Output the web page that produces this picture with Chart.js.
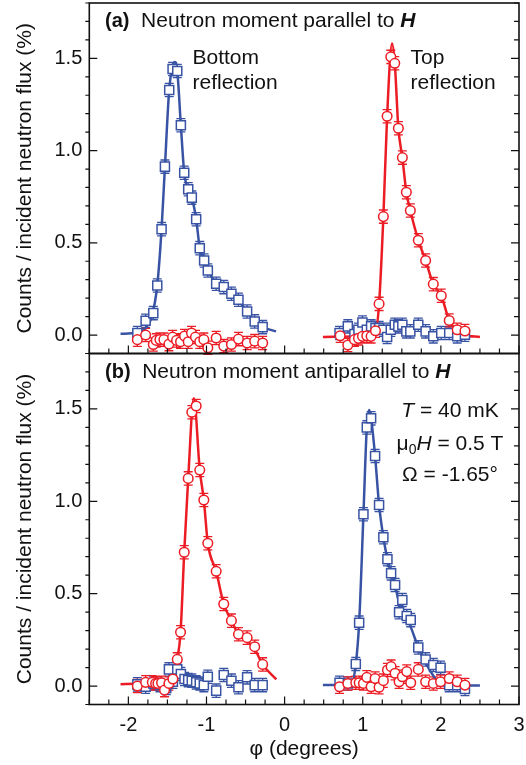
<!DOCTYPE html>
<html>
<head>
<meta charset="utf-8">
<script src="https://cdn.jsdelivr.net/npm/chart.js@4.4.1/dist/chart.umd.min.js"></script>
<style>
  html, body { margin: 0; padding: 0; background: #fff; }
  #wrap { position: relative; width: 526px; height: 765px; overflow: hidden; }
  canvas { position: absolute; left: 0; }
  #chartA { top: 0; }
  #chartB { top: 350px; }
</style>
</head>
<body>
<div id="wrap">
  <canvas id="chartA" width="526" height="356" style="width:526px;height:356px"></canvas>
  <canvas id="chartB" width="526" height="415" style="width:526px;height:415px"></canvas>
</div>
<script>
// ---- data (phi in degrees, counts in %) ----

// panel (a): neutron moment parallel to H
const aBlueLeftX = [-1.885, -1.779, -1.681, -1.630, -1.575, -1.532, -1.477, -1.434, -1.374, -1.328, -1.285, -1.234, -1.188, -1.132, -1.086, -1.030, -0.983, -0.876, -0.779, -0.681, -0.591, -0.480, -0.383, -0.281];
const aBlueLeftY = [0.011, 0.077, 0.119, 0.269, 0.574, 0.913, 1.328, 1.442, 1.431, 1.137, 0.880, 0.790, 0.745, 0.628, 0.471, 0.404, 0.350, 0.278, 0.260, 0.224, 0.191, 0.128, 0.074, 0.043];
const aRedLeftX = [-1.885, -1.779, -1.681, -1.643, -1.596, -1.545, -1.481, -1.434, -1.383, -1.332, -1.281, -1.234, -1.192, -1.141, -1.086, -1.034, -0.983, -0.876, -0.779, -0.681, -0.591, -0.480, -0.383, -0.281];
const aRedLeftY = [-0.025, 0.000, -0.051, -0.029, -0.024, -0.025, -0.049, -0.011, -0.029, -0.036, -0.005, -0.036, 0.011, -0.011, -0.036, -0.025, -0.069, -0.016, -0.060, -0.051, -0.022, -0.043, -0.033, -0.043];
const aBlueFitX = [-2.10, -1.885, -1.779, -1.70, -1.63, -1.575, -1.532, -1.477, -1.41, -1.374, -1.328, -1.285, -1.234, -1.188, -1.132, -1.086, -1.030, -0.983, -0.876, -0.779, -0.681, -0.591, -0.480, -0.383, -0.281, -0.11];
const aBlueFitY = [0.007, 0.012, 0.040, 0.100, 0.270, 0.574, 0.913, 1.328, 1.480, 1.431, 1.137, 0.880, 0.790, 0.745, 0.628, 0.471, 0.404, 0.350, 0.283, 0.255, 0.222, 0.185, 0.128, 0.074, 0.043, 0.020];

const aRedRightX = [0.711, 0.809, 0.894, 0.945, 0.996, 1.052, 1.107, 1.163, 1.209, 1.264, 1.312, 1.359, 1.410, 1.456, 1.507, 1.558, 1.609, 1.711, 1.805, 1.903, 2.005, 2.107, 2.209, 2.308];
const aRedRightY = [-0.004, -0.054, -0.025, -0.018, -0.007, -0.004, -0.007, 0.023, 0.169, 0.642, 1.186, 1.508, 1.473, 1.121, 0.962, 0.774, 0.675, 0.514, 0.404, 0.276, 0.213, 0.079, 0.029, 0.022];
const aBlueRightX = [0.703, 0.809, 0.894, 0.945, 0.996, 1.052, 1.107, 1.163, 1.209, 1.264, 1.312, 1.359, 1.410, 1.456, 1.507, 1.558, 1.609, 1.711, 1.805, 1.903, 2.005, 2.107, 2.209, 2.308];
const aBlueRightY = [0.011, 0.047, 0.005, 0.029, 0.068, 0.029, 0.047, 0.038, 0.038, 0.029, -0.011, 0.029, 0.056, 0.047, 0.056, 0.020, 0.020, 0.056, 0.020, -0.007, 0.011, 0.011, -0.007, 0.002];
const aRedFitX = [0.49, 0.90, 1.15, 1.209, 1.264, 1.312, 1.375, 1.410, 1.456, 1.507, 1.558, 1.609, 1.711, 1.805, 1.903, 2.005, 2.107, 2.209, 2.30, 2.50];
const aRedFitY = [-0.010, -0.008, -0.002, 0.169, 0.642, 1.186, 1.580, 1.473, 1.121, 0.962, 0.774, 0.675, 0.514, 0.404, 0.276, 0.213, 0.079, 0.025, 0.000, -0.010];

// panel (b): neutron moment antiparallel to H
const bRedLeftX = [-1.885, -1.779, -1.694, -1.651, -1.622, -1.575, -1.537, -1.481, -1.430, -1.374, -1.332, -1.285, -1.234, -1.188, -1.132, -1.086, -1.034, -0.983, -0.876, -0.779, -0.681, -0.591, -0.480, -0.383, -0.281];
const bRedLeftY = [0.000, 0.020, 0.020, 0.014, 0.014, 0.018, -0.022, 0.014, 0.038, 0.144, 0.291, 0.724, 1.124, 1.482, 1.516, 1.169, 1.007, 0.773, 0.621, 0.444, 0.354, 0.280, 0.262, 0.213, 0.117];
const bBlueLeftX = [-1.885, -1.779, -1.681, -1.596, -1.515, -1.481, -1.430, -1.374, -1.328, -1.281, -1.234, -1.188, -1.132, -1.086, -1.034, -0.983, -0.876, -0.779, -0.681, -0.591, -0.480, -0.383, -0.281];
const bBlueLeftY = [0.009, -0.004, 0.014, 0.005, -0.010, 0.090, 0.023, 0.090, 0.065, 0.038, 0.032, 0.029, 0.020, 0.014, 0.005, 0.050, -0.025, 0.060, 0.029, -0.007, 0.047, 0.005, 0.005];
const bRedFitX = [-2.10, -1.90, -1.60, -1.48, -1.43, -1.374, -1.332, -1.285, -1.234, -1.162, -1.086, -1.034, -0.983, -0.876, -0.779, -0.681, -0.591, -0.480, -0.383, -0.281, -0.106];
const bRedFitY = [0.010, 0.012, 0.015, 0.025, 0.050, 0.144, 0.291, 0.724, 1.124, 1.558, 1.169, 1.007, 0.773, 0.621, 0.444, 0.354, 0.280, 0.245, 0.200, 0.117, 0.036];

const bBlueRightX = [0.703, 0.809, 0.911, 0.954, 1.009, 1.052, 1.107, 1.158, 1.209, 1.264, 1.316, 1.363, 1.414, 1.465, 1.507, 1.563, 1.614, 1.711, 1.805, 1.903, 1.996, 2.107, 2.209, 2.308];
const bBlueRightY = [0.018, 0.014, 0.119, 0.343, 0.930, 1.400, 1.449, 1.245, 0.980, 0.805, 0.686, 0.610, 0.547, 0.399, 0.466, 0.379, 0.357, 0.209, 0.144, 0.114, 0.099, 0.005, 0.005, -0.016];
const bRedRightX = [0.703, 0.809, 0.911, 0.954, 1.009, 1.052, 1.107, 1.158, 1.209, 1.264, 1.316, 1.363, 1.414, 1.465, 1.507, 1.563, 1.614, 1.711, 1.805, 1.903, 1.996, 2.107, 2.209, 2.308];
const bRedRightY = [-0.004, 0.014, 0.018, 0.018, 0.014, 0.047, -0.004, 0.041, -0.007, 0.029, 0.087, 0.105, 0.069, 0.023, 0.050, 0.078, 0.018, 0.090, 0.023, 0.014, 0.023, 0.041, 0.023, 0.005];
const bBlueFitX = [0.49, 0.85, 0.911, 0.954, 1.009, 1.052, 1.082, 1.107, 1.158, 1.209, 1.264, 1.316, 1.363, 1.414, 1.465, 1.563, 1.614, 1.711, 1.805, 1.92, 2.00, 2.50];
const bBlueFitY = [0.005, 0.005, 0.119, 0.343, 0.930, 1.400, 1.494, 1.449, 1.245, 0.980, 0.805, 0.686, 0.610, 0.547, 0.450, 0.370, 0.320, 0.209, 0.125, 0.045, 0.003, 0.003];

// axes
const xTicks = [-2, -1, 0, 1, 2, 3];
const yTicks = [0, 0.5, 1.0, 1.5];
const ERR = 0.036; // half height of the error bars

const BLUE = '#3953a4';
const RED = '#ec1c24';
const INK = '#111';
const FF = "'Liberation Sans', Arial, Helvetica, sans-serif";

const pts = (xs, ys) => xs.map((x, i) => ({ x: x, y: ys[i] }));

function fitSet(xs, ys, color) {
  return {
    data: pts(xs, ys), showLine: true, borderColor: color, borderWidth: 2.5,
    pointRadius: 0, pointHoverRadius: 0, cubicInterpolationMode: 'monotone', order: 5
  };
}
function squareSet(xs, ys) {
  return {
    data: pts(xs, ys), showLine: false, pointStyle: 'rect', pointRadius: 6.4,
    borderColor: BLUE, backgroundColor: '#fff', borderWidth: 1.5, err: true, order: 2
  };
}
function circleSet(xs, ys) {
  return {
    data: pts(xs, ys), showLine: false, pointStyle: 'circle', pointRadius: 4.8,
    borderColor: RED, backgroundColor: '#fff', borderWidth: 1.5, err: true, order: 1
  };
}

// error bars, drawn under the markers
const errorBars = {
  id: 'errorBars',
  beforeDatasetsDraw(chart) {
    const ctx = chart.ctx, ys = chart.scales.y;
    ctx.save();
    ctx.lineWidth = 1.3;
    chart.data.datasets.forEach((ds, i) => {
      if (!ds.err) return;
      ctx.strokeStyle = ds.borderColor;
      const meta = chart.getDatasetMeta(i);
      ctx.beginPath();
      meta.data.forEach((el, j) => {
        const v = ds.data[j].y;
        const top = ys.getPixelForValue(v + ERR);
        const bot = ys.getPixelForValue(v - ERR);
        ctx.moveTo(el.x, top); ctx.lineTo(el.x, bot);
        ctx.moveTo(el.x - 4.5, top); ctx.lineTo(el.x + 4.5, top);
        ctx.moveTo(el.x - 4.5, bot); ctx.lineTo(el.x + 4.5, bot);
      });
      ctx.stroke();
    });
    ctx.restore();
  }
};

// box frame with tick marks
const frame = {
  id: 'frame',
  afterDatasetsDraw(chart) {
    const { ctx, chartArea: a, scales: { x, y } } = chart;
    ctx.save();
    ctx.strokeStyle = INK;
    ctx.lineWidth = 1.2;
    ctx.beginPath();
    for (let i = 0; i <= 22; i++) {
      const v = -2.5 + i * 0.25;
      const major = Math.abs(v - Math.round(v)) < 1e-6;
      const px = x.getPixelForValue(v);
      ctx.moveTo(px, a.bottom); ctx.lineTo(px, a.bottom - (major ? 8 : 5));
    }
    for (let i = 0; i <= 19; i++) {
      const v = -0.1 + i * 0.1;
      const major = Math.abs(v * 2 - Math.round(v * 2)) < 1e-6;
      const py = y.getPixelForValue(v);
      if (major) { ctx.moveTo(a.left, py); ctx.lineTo(a.left + 8, py); }
      else { ctx.moveTo(a.left - 4, py); ctx.lineTo(a.left, py); }
      ctx.moveTo(a.right, py); ctx.lineTo(a.right - (major ? 8 : 5), py);
    }
    ctx.stroke();
    ctx.lineWidth = 1.6;
    ctx.strokeRect(a.left, a.top, a.right - a.left, a.bottom - a.top);
    ctx.restore();
  }
};

// write a row of differently styled text pieces starting at x
function richText(ctx, parts, x, y) {
  let cx = x;
  parts.forEach(p => {
    ctx.font = p.font;
    ctx.fillText(p.text, cx, y + (p.dy || 0));
    cx += ctx.measureText(p.text).width;
  });
}
function richWidth(ctx, parts) {
  return parts.reduce((w, p) => { ctx.font = p.font; return w + ctx.measureText(p.text).width; }, 0);
}

const R = '21px ' + FF, I = 'italic 21px ' + FF, BI = 'italic bold 21px ' + FF;

function titleParts(tag, text) {
  return [{ text: tag, font: 'bold 20px ' + FF }, { text: '  ' + text + ' ', font: R }, { text: 'H', font: BI }];
}

const textA = {
  id: 'textA',
  afterDraw(chart) {
    const ctx = chart.ctx;
    ctx.save();
    ctx.fillStyle = INK;
    ctx.textBaseline = 'middle';
    richText(ctx, titleParts('(a)', 'Neutron moment parallel to'), 105, 21.5);
    ctx.font = R;
    ctx.fillText('Bottom', 192.5, 58.5);
    ctx.fillText('reflection', 192.5, 83.5);
    ctx.fillText('Top', 410.5, 58.5);
    ctx.fillText('reflection', 410.5, 83.5);
    ctx.restore();
  }
};

const textB = {
  id: 'textB',
  afterDraw(chart) {
    const ctx = chart.ctx;
    ctx.save();
    ctx.fillStyle = INK;
    ctx.textBaseline = 'middle';
    richText(ctx, titleParts('(b)', 'Neutron moment antiparallel to'), 105, 22);
    const rows = [
      { y: 61.5, parts: [{ text: 'T', font: I }, { text: ' = 40 mK', font: R }] },
      { y: 94, parts: [{ text: 'μ', font: R }, { text: '0', font: '14px ' + FF, dy: 6 }, { text: 'H', font: I }, { text: ' = 0.5 T', font: R }] },
      { y: 125, parts: [{ text: 'Ω = -1.65°', font: R }] }
    ];
    rows.forEach(r => richText(ctx, r.parts, 450 - richWidth(ctx, r.parts) / 2, r.y));
    ctx.restore();
  }
};

function makeOptions(showX, padTop, padBottom, xHeight) {
  return {
    responsive: false,
    animation: false,
    devicePixelRatio: 1,
    layout: { autoPadding: false, padding: { top: padTop, bottom: padBottom, left: 0, right: 7 } },
    plugins: { legend: { display: false }, tooltip: { enabled: false } },
    scales: {
      x: {
        type: 'linear', min: -2.5, max: 3,
        afterBuildTicks: s => { s.ticks = xTicks.map(v => ({ value: v })); },
        ticks: { display: showX, autoSkip: false, maxRotation: 0, padding: 9, color: INK, font: { family: FF, size: 20 }, callback: v => String(v) },
        grid: { display: false, drawTicks: false },
        border: { display: false },
        title: { display: showX, text: 'φ (degrees)', color: INK, font: { family: FF, size: 21 }, padding: { top: 0, bottom: 3 } },
        afterFit: s => { s.height = xHeight; s.paddingLeft = 0; s.paddingRight = 0; }
      },
      y: {
        type: 'linear', min: -0.1, max: 1.8,
        afterBuildTicks: s => { s.ticks = yTicks.map(v => ({ value: v })); },
        ticks: { padding: 7, color: INK, font: { family: FF, size: 20 }, callback: v => v.toFixed(1) },
        grid: { display: false, drawTicks: false },
        border: { display: false },
        title: { display: true, text: 'Counts / incident neutron flux (%)', color: INK, font: { family: FF, size: 21 }, padding: { top: 13, bottom: 0 } },
        afterFit: s => { s.width = 89.3; s.paddingTop = 0; s.paddingBottom = 0; }
      }
    }
  };
}

new Chart(document.getElementById('chartA'), {
  type: 'scatter',
  data: {
    datasets: [
      fitSet(aBlueFitX, aBlueFitY, BLUE),
      fitSet(aRedFitX, aRedFitY, RED),
      squareSet(aBlueLeftX, aBlueLeftY),
      squareSet(aBlueRightX, aBlueRightY),
      circleSet(aRedLeftX, aRedLeftY),
      circleSet(aRedRightX, aRedRightY)
    ]
  },
  options: makeOptions(false, 3, 2.5, 0),
  plugins: [errorBars, frame, textA]
});

new Chart(document.getElementById('chartB'), {
  type: 'scatter',
  data: {
    datasets: [
      fitSet(bRedFitX, bRedFitY, RED),
      fitSet(bBlueFitX, bBlueFitY, BLUE),
      squareSet(bBlueLeftX, bBlueLeftY),
      squareSet(bBlueRightX, bBlueRightY),
      circleSet(bRedLeftX, bRedLeftY),
      circleSet(bRedRightX, bRedRightY)
    ]
  },
  options: makeOptions(true, 3.5, 0, 60.5),
  plugins: [errorBars, frame, textB]
});
</script>
</body>
</html>
